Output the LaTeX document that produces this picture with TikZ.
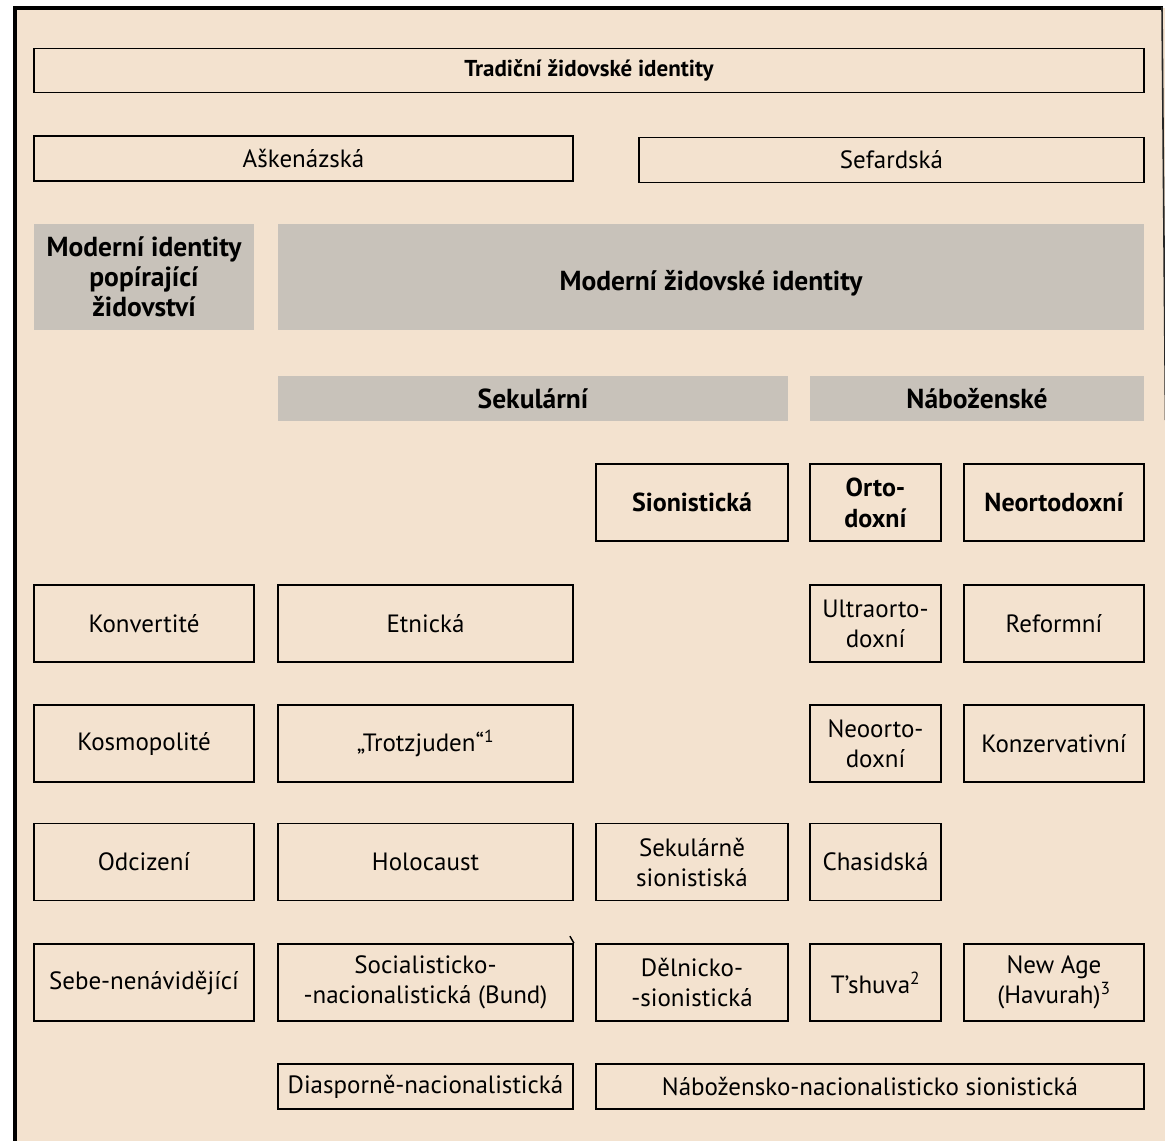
\documentclass[tikz,border=0pt]{standalone}
\usepackage{fontspec}
\setmainfont{PT Sans}
\definecolor{paper}{RGB}{243,226,207}
\definecolor{greyfill}{RGB}{200,194,186}
\begin{document}
\begin{tikzpicture}[x=1pt,y=-1pt,
  bx/.style={draw=black, line width=1.8pt, rectangle, inner sep=0pt, align=center,
    font=\fontsize{25}{30}\selectfont, text=black},
  bxb/.style={bx, font=\fontsize{26}{31}\selectfont\bfseries},
  gb/.style={fill=greyfill, rectangle, inner sep=0pt, align=center,
    font=\fontsize{27.5}{30}\selectfont\bfseries, text=black},
  colA/.style={minimum width=220pt},
  colB/.style={minimum width=295pt},
  colC/.style={minimum width=192pt},
  colD/.style={minimum width=131pt},
  colE/.style={minimum width=180pt},
  tall/.style={minimum height=77pt},
  flat/.style={minimum height=45pt}]
\useasboundingbox (0,0) rectangle (1165,1141);
\fill[white] (0,0) rectangle (1165,1141);
\fill[paper] (15,8) rectangle (1165,1141);
\draw[line width=4pt] (15,6) -- (15,1141);
\draw[line width=4pt] (13,8) -- (1163,8);
\draw[line width=1.6pt, black!85] (1162,7) -- (1165.5,420);

% top rows
\node[bxb, font=\fontsize{23}{28}\selectfont\bfseries, minimum width=1110pt, minimum height=44pt] (trad) at (589,70.5) {Tradiční židovské identity};
\node[bx, minimum width=539pt, flat] (ask) at (303.5,158.5) {Aškenázská};
\node[bx, minimum width=505pt, flat] (sef) at (891.5,160) {Sefardská};

% grey headers
\node[gb, colA, minimum height=106pt] (modpop) at (144,277) {Moderní identity\\popírající\\židovství};
\node[gb, minimum width=866pt, minimum height=106pt, text depth=0pt] (modzid) at (711,277) {\raisebox{-6pt}{Moderní židovské identity}};
\node[gb, minimum width=510pt, flat] (sek) at (533,398.5) {Sekulární};
\node[gb, minimum width=334pt, flat] (nab) at (977,398.5) {Náboženské};

% row 1
\node[bxb, colC, tall] (sion) at (692,502.5) {Sionistická};
\node[bxb, colD, tall] (orto) at (875.5,502.5) {Orto-\\doxní};
\node[bxb, colE, tall] (neorto) at (1054,502.5) {Neortodoxní};

% row 2
\node[bx, colA, tall] (konv) at (144,623.5) {Konvertité};
\node[bx, colB, tall] (etn) at (425.5,623.5) {Etnická};
\node[bx, colD, tall] (ultra) at (875.5,623.5) {Ultraorto-\\doxní};
\node[bx, colE, tall] (reform) at (1054,623.5) {Reformní};

% row 3
\node[bx, colA, tall] (kosm) at (144,743.5) {Kosmopolité};
\node[bx, colB, tall] (trotz) at (425.5,743.5) {„Trotzjuden“\textsuperscript{1}};
\node[bx, colD, tall] (neoorto) at (875.5,743.5) {Neoorto-\\doxní};
\node[bx, colE, tall] (konz) at (1054,743.5) {Konzervativní};

% row 4
\node[bx, colA, tall] (odc) at (144,862) {Odcizení};
\node[bx, colB, tall] (holo) at (425.5,862) {Holocaust};
\node[bx, colC, tall] (seksion) at (692,862) {Sekulárně\\sionistiská};
\node[bx, colD, tall] (chas) at (875.5,862) {Chasidská};

% row 5
\node[bx, colA, tall] (sebe) at (144,982.5) {Sebe-nenávidějící};
\node[bx, colB, tall] (social) at (425.5,982.5) {Socialisticko-\\-nacionalistická (Bund)};
\node[bx, colC, tall] (delnic) at (692,982.5) {Dělnicko-\\-sionistická};
\node[bx, colD, tall] (tshuva) at (875.5,982.5) {T’shuva\textsuperscript{2}};
\node[bx, colE, tall] (newage) at (1054,982.5) {New Age\\(Havurah)\textsuperscript{3}};
\draw[line width=1.4pt] (social.north east) -- ++(-4,-7);

% bottom row
\node[bx, colB, flat] (diasp) at (425.5,1086.5) {Diasporně-nacionalistická};
\node[bx, minimum width=548pt, flat] (nabnac) at (870,1086.5) {Nábožensko-nacionalisticko sionistická};
\end{tikzpicture}
\end{document}
